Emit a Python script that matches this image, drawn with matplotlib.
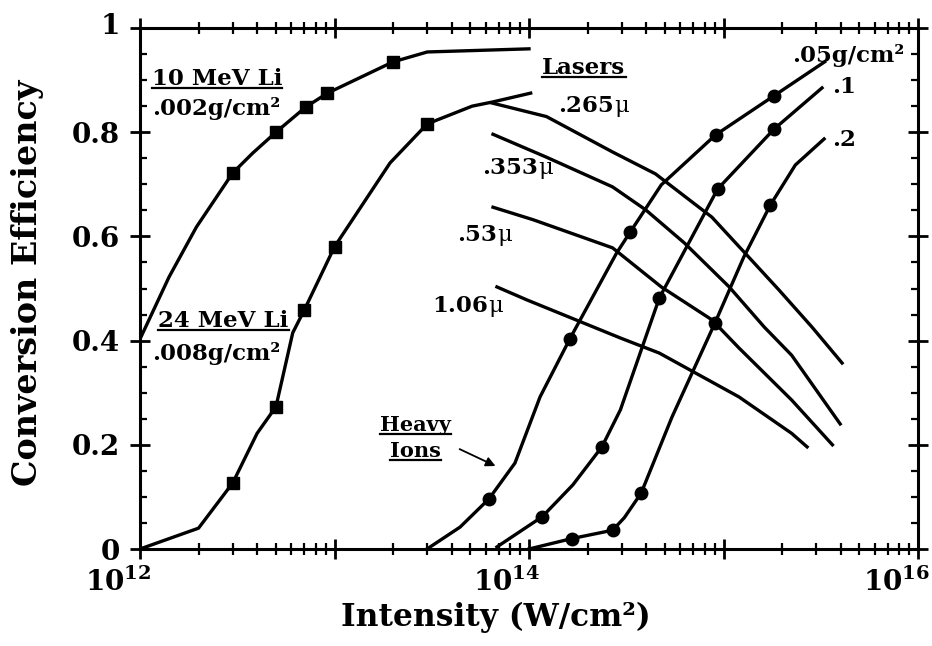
import numpy as np
import matplotlib
matplotlib.use("Agg")
import matplotlib.pyplot as plt
from matplotlib.ticker import FixedLocator, FixedFormatter, NullFormatter
from matplotlib.transforms import ScaledTranslation

plt.rcParams['font.family'] = ['DejaVu Serif']
plt.rcParams['font.weight'] = 'bold'
plt.rcParams['mathtext.fontset'] = 'custom'
plt.rcParams['mathtext.rm'] = 'DejaVu Serif:bold'
plt.rcParams['mathtext.bf'] = 'DejaVu Serif:bold'
plt.rcParams['mathtext.default'] = 'rm'

# ---------------- data ----------------
li10_x = [1.0e12, 1.41e12, 1.95e12, 3.0e12, 3.8e12, 5.0e12, 7.1e12, 9.2e12, 2.0e13, 3.0e13, 1.0e14]
li10_y = [0.403, 0.522, 0.618, 0.722, 0.76, 0.80, 0.848, 0.875, 0.935, 0.954, 0.96]
li10_mx = [3.0e12, 5.0e12, 7.1e12, 9.2e12, 2.0e13]
li10_my = [0.722, 0.80, 0.848, 0.875, 0.935]

li24_x = [1.0e12, 2.0e12, 3.0e12, 4.0e12, 5.0e12, 6.1e12, 7.0e12, 1.0e13, 1.93e13, 3.0e13, 5.1e13, 6.5e13, 1.02e14]
li24_y = [0.0, 0.04, 0.127, 0.222, 0.273, 0.415, 0.459, 0.58, 0.741, 0.816, 0.85, 0.858, 0.875]
li24_mx = [3.0e12, 5.0e12, 7.0e12, 1.0e13, 3.0e13]
li24_my = [0.127, 0.273, 0.459, 0.58, 0.816]

l265_x = [6.46e13, 1.23e14, 2.69e14, 4.47e14, 8.71e14, 1.29e15, 1.93e15, 2.85e15, 4.07e15]
l265_y = [0.856, 0.83, 0.762, 0.72, 0.637, 0.568, 0.497, 0.426, 0.357]
l353_x = [6.53e13, 1.23e14, 2.69e14, 3.98e14, 6.31e14, 1.07e15, 1.62e15, 2.24e15, 3.98e15]
l353_y = [0.796, 0.752, 0.695, 0.651, 0.587, 0.503, 0.426, 0.372, 0.240]
l53_x = [6.53e13, 1.05e14, 2.69e14, 4.79e14, 8.71e14, 1.20e15, 2.24e15, 3.63e15]
l53_y = [0.656, 0.632, 0.578, 0.503, 0.44, 0.386, 0.286, 0.20]
l106_x = [6.84e13, 9.77e13, 2.95e14, 4.68e14, 1.20e15, 2.24e15, 2.69e15]
l106_y = [0.503, 0.478, 0.405, 0.376, 0.292, 0.222, 0.196]

h05_x = [2.99e13, 4.42e13, 6.22e13, 8.47e13, 1.14e14, 1.62e14, 2.82e14, 3.31e14, 4.79e14, 9.12e14, 1.82e15, 3.31e15]
h05_y = [0.0, 0.042, 0.096, 0.165, 0.292, 0.403, 0.568, 0.608, 0.699, 0.795, 0.87, 0.935]
h05_mx = [6.22e13, 1.62e14, 3.31e14, 9.12e14, 1.82e15]
h05_my = [0.096, 0.403, 0.608, 0.795, 0.87]

h1_x = [6.84e13, 1.17e14, 1.68e14, 2.37e14, 2.95e14, 4.68e14, 9.33e14, 1.82e15, 3.21e15]
h1_y = [0.004, 0.062, 0.123, 0.196, 0.267, 0.482, 0.691, 0.806, 0.885]
h1_mx = [1.17e14, 2.37e14, 4.68e14, 9.33e14, 1.82e15]
h1_my = [0.062, 0.196, 0.482, 0.691, 0.806]

h2_x = [1.0e14, 1.66e14, 2.69e14, 3.09e14, 3.77e14, 5.43e14, 9.04e14, 1.27e15, 1.74e15, 2.34e15, 3.29e15]
h2_y = [0.0, 0.02, 0.036, 0.06, 0.107, 0.253, 0.434, 0.56, 0.66, 0.737, 0.787]
h2_mx = [1.66e14, 2.69e14, 3.77e14, 9.04e14, 1.74e15]
h2_my = [0.02, 0.036, 0.107, 0.434, 0.66]

x_ticks = [1e12, 1e13, 1e14, 1e15, 1e16]
x_tick_labels = [r'$10^{12}$', '', r'$10^{14}$', '', r'$10^{16}$']
y_ticks = [0, 0.2, 0.4, 0.6, 0.8, 1.0]
y_tick_labels = ['0', '0.2', '0.4', '0.6', '0.8', '1']

# ---------------- figure ----------------
fig = plt.figure(figsize=(9.32, 6.46), dpi=100)
ax = fig.add_axes([140/932, 1-549/646, 778/932, 521/646])
ax.set_xscale('log')
ax.set_xlim(1e12, 1e16)
ax.set_ylim(0, 1)

lw = 2.4
k = 'black'
ax.plot(li10_x, li10_y, color=k, lw=lw)
ax.plot(li10_mx, li10_my, 's', color=k, ms=8)
ax.plot(li24_x, li24_y, color=k, lw=lw)
ax.plot(li24_mx, li24_my, 's', color=k, ms=8)
for xs, ys in [(l265_x, l265_y), (l353_x, l353_y), (l53_x, l53_y), (l106_x, l106_y)]:
    ax.plot(xs, ys, color=k, lw=lw)
for xs, ys, mx, my in [(h05_x, h05_y, h05_mx, h05_my), (h1_x, h1_y, h1_mx, h1_my), (h2_x, h2_y, h2_mx, h2_my)]:
    ax.plot(xs, ys, color=k, lw=lw)
    ax.plot(mx, my, 'o', color=k, ms=9)

# axes styling
for s in ax.spines.values():
    s.set_linewidth(2.2)
ax.xaxis.set_major_locator(FixedLocator(x_ticks))
ax.xaxis.set_major_formatter(FixedFormatter(x_tick_labels))
minors = [m * 10.0**e for e in range(12, 16) for m in range(2, 10)]
ax.xaxis.set_minor_locator(FixedLocator(minors))
ax.xaxis.set_minor_formatter(NullFormatter())
ax.yaxis.set_major_locator(FixedLocator(y_ticks))
ax.yaxis.set_major_formatter(FixedFormatter(y_tick_labels))
ax.yaxis.set_minor_locator(FixedLocator(np.arange(0, 1.001, 0.05)))
ax.tick_params(axis='x', which='major', direction='inout', length=15, width=2, top=True, labelsize=20, pad=6)
ax.tick_params(axis='x', which='minor', direction='inout', length=8, width=1.6, top=True)
ax.tick_params(axis='y', which='major', direction='inout', length=15, width=2, right=True, labelsize=20, pad=7)
ax.tick_params(axis='y', which='minor', direction='in', length=5, width=1.6, right=True)
off = ScaledTranslation(-22/100, 0, fig.dpi_scale_trans)
for lab in ax.get_xticklabels():
    lab.set_transform(lab.get_transform() + off)
yl = ax.get_yticklabels()
yl[-1].set_transform(yl[-1].get_transform() + ScaledTranslation(0, 5/100, fig.dpi_scale_trans))

ax.set_xlabel('Intensity (W/cm²)', fontsize=22.5, fontweight='bold')
ax.xaxis.set_label_coords(0.4576, -0.102)
ax.set_ylabel('Conversion Efficiency', fontsize=24, fontweight='bold')
ax.yaxis.set_label_coords(-0.124, 0.51)

fs = 16.5
texts_ul = []
t = ax.text(1.15e12, 0.891, '10 MeV Li', fontsize=fs, va='baseline'); texts_ul.append(t)
ax.text(1.15e12, 0.833, '.002g/cm²', fontsize=fs, va='baseline')
t = ax.text(1.24e12, 0.426, '24 MeV Li', fontsize=fs, va='baseline'); texts_ul.append(t)
ax.text(1.15e12, 0.363, '.008g/cm²', fontsize=fs, va='baseline')
t = ax.text(1.17e14, 0.912, 'Lasers', fontsize=fs, va='baseline'); texts_ul.append(t)

laser_labels = [(1.41e14, 0.839, '.265'), (5.73e13, 0.720, '.353'),
                (4.27e13, 0.591, '.53'), (3.17e13, 0.455, '1.06')]
for lx, ly, s in laser_labels:
    tt = ax.text(lx, ly, s, fontsize=fs, va='baseline')
    ax.annotate('μ', xy=(1, 0), xycoords=tt, va='bottom', ha='left',
                fontsize=fs, fontweight='normal')

ax.text(2.25e15, 0.935, '.05g/cm²', fontsize=fs, va='baseline')
ax.text(3.61e15, 0.875, '.1', fontsize=fs, va='baseline')
ax.text(3.61e15, 0.774, '.2', fontsize=fs, va='baseline')
t = ax.text(2.62e13, 0.226, 'Heavy', fontsize=15, va='baseline', ha='center'); texts_ul.append(t)
t = ax.text(2.62e13, 0.177, 'Ions', fontsize=15, va='baseline', ha='center'); texts_ul.append(t)
ax.annotate('', xy=(6.93e13, 0.157), xytext=(4.27e13, 0.194),
            arrowprops=dict(arrowstyle='-|>', color=k, lw=1.3, mutation_scale=14))

fig.canvas.draw()
inv = ax.transData.inverted()
for t in texts_ul:
    bb = t.get_window_extent()
    bx, by = ax.transData.transform((t.get_position()[0], t.get_position()[1]))
    p0 = inv.transform((bb.x0, by - 3))
    p1 = inv.transform((bb.x1, by - 3))
    ax.plot([p0[0], p1[0]], [p0[1], p1[1]], color=k, lw=1.6, clip_on=False)

fig.savefig('out.png', dpi=100)
